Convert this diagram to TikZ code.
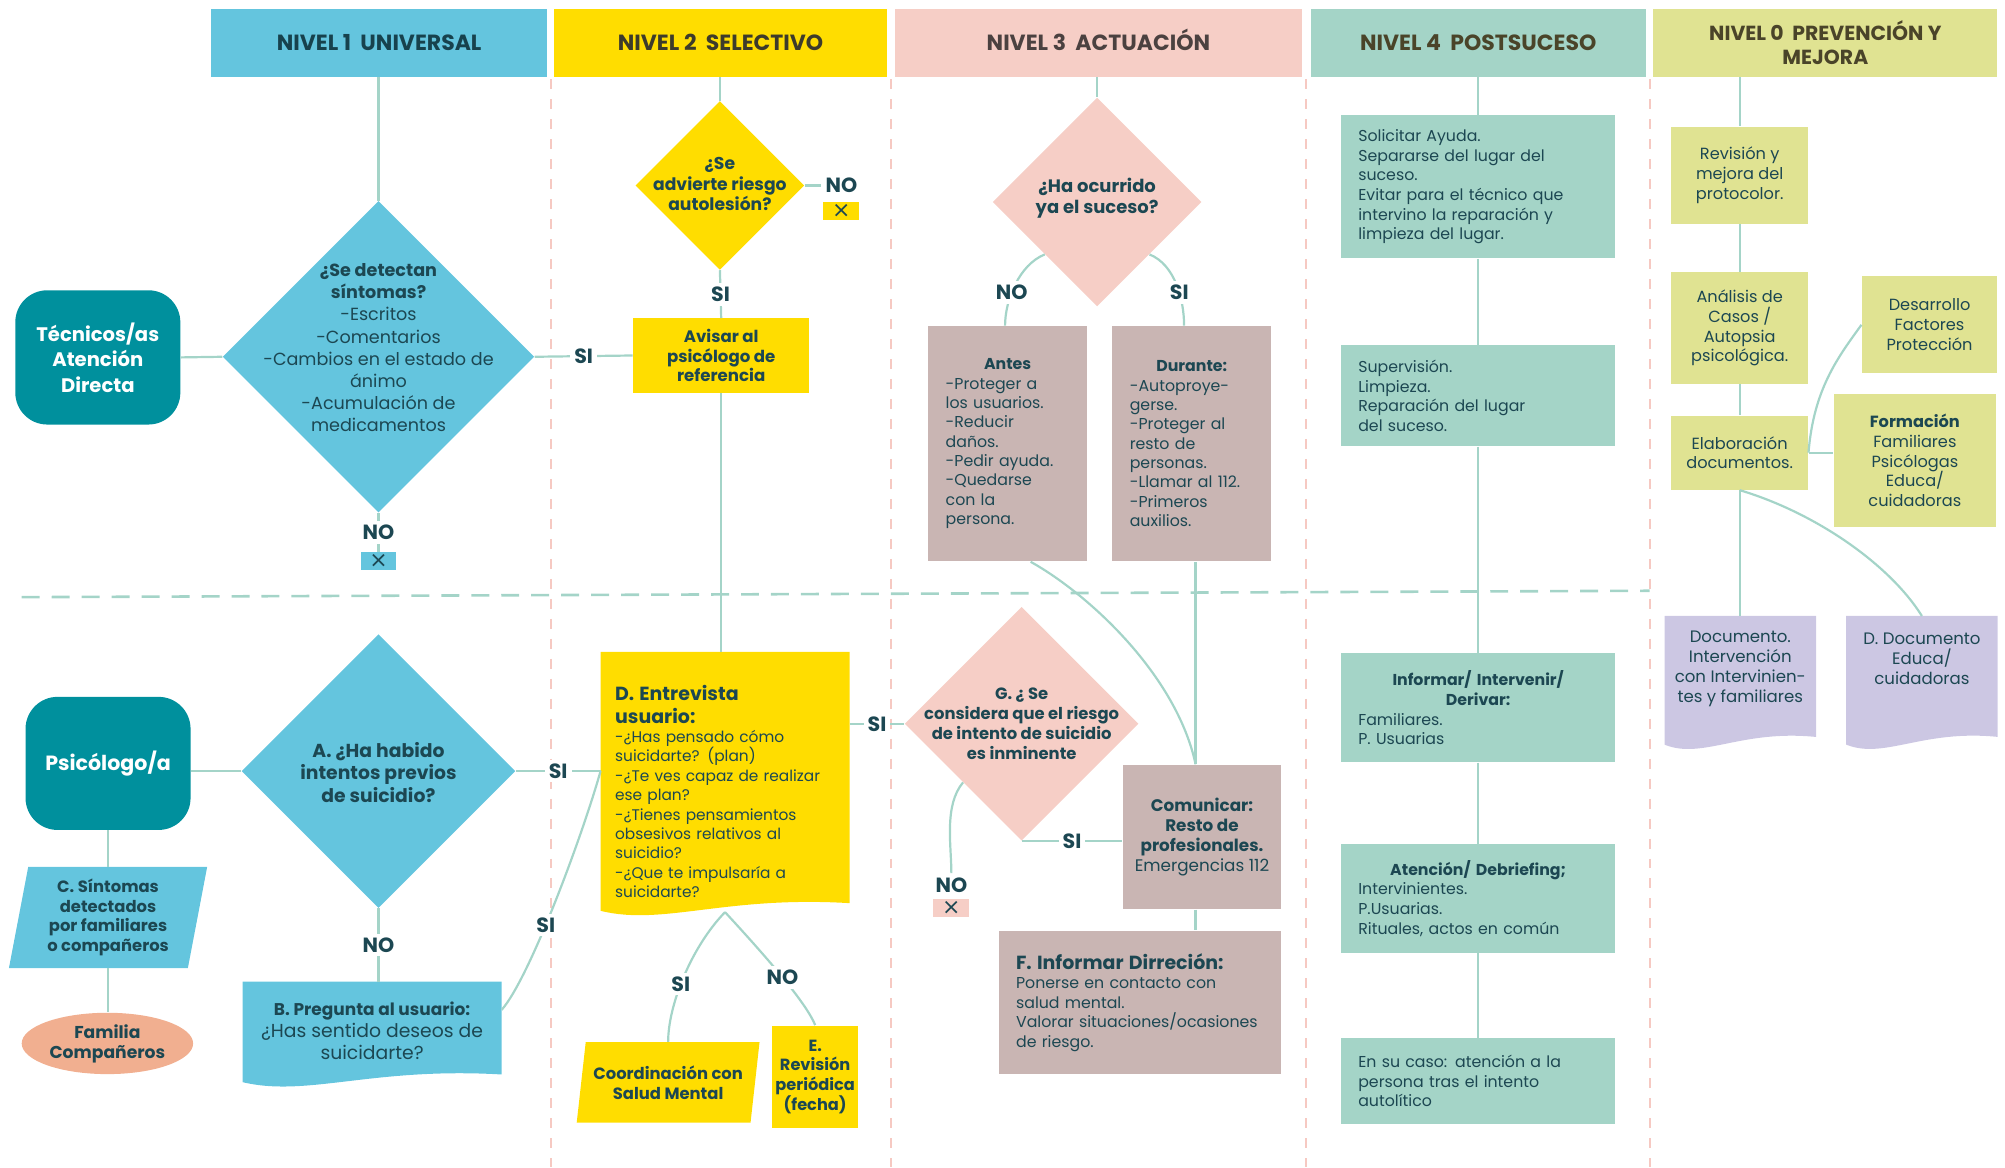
\documentclass[tikz,border=0pt]{standalone}
\usepackage{fontspec}
\setmainfont{Poppins}
\newfontfamily\symfont{DejaVu Sans}
\usetikzlibrary{shapes.geometric,calc,backgrounds}

\definecolor{ink}{HTML}{1C4752}
\definecolor{hdrA}{HTML}{17424D}
\definecolor{hdrB}{HTML}{3D3B2B}
\definecolor{hdrC}{HTML}{4B4140}
\definecolor{hdrD}{HTML}{4A4429}
\definecolor{tealD}{HTML}{00909D}
\definecolor{cyanB}{HTML}{64C5DE}
\definecolor{yelB}{HTML}{FFDD00}
\definecolor{pinkB}{HTML}{F6CEC6}
\definecolor{roseB}{HTML}{C9B5B3}
\definecolor{mintB}{HTML}{A4D4C7}
\definecolor{oliveB}{HTML}{E0E392}
\definecolor{lilaB}{HTML}{CCC7E3}
\definecolor{salmB}{HTML}{F1AF90}
\definecolor{lineC}{HTML}{A4D4C8}
\definecolor{divC}{HTML}{F6C9C2}

\newcommand{\fsz}[2]{\fontsize{#1}{#2}\selectfont}
% fondo de documento con borde inferior ondulado
\newcommand{\docfill}[3]{%
  \begin{pgfonlayer}{background}
    \fill[#2] (#1.north west) -- (#1.north east)
      -- ($(#1.south east)+(0,#3-10)$)
      .. controls ($(#1.south)+(0,#3-16)$) and ($(#1.south west)!0.25!(#1.south east)+(0,#3+8)$)
      .. ($(#1.south west)+(0,#3-4)$) -- cycle;
  \end{pgfonlayer}}

\begin{document}
\begin{tikzpicture}[
    x=0.64pt, y=-0.64pt,
    every node/.style={text=ink, inner sep=0pt},
    every edge/.style={draw=lineC, line width=1.1pt},
    hdr/.style={minimum height=34pt, align=center, font=\fsz{11}{12.2}\bfseries},
    hdrone/.style={hdr, text height=8pt, text depth=0.4pt},
    dia/.style={diamond, aspect=1, minimum size=#1},
    dtxt/.style={align=center},
    rbox/.style={rectangle, minimum width=#1, align=center},
    rnd/.style={rectangle, rounded corners=16pt, fill=tealD, text=white,
        minimum width=82.6pt, align=center, font=\fsz{9.8}{12.8}\bfseries},
    para/.style={trapezium, trapezium stretches body, align=center},
    doc/.style={rectangle, minimum width=#1, align=center},
    pbox/.style={rbox=137pt, fill=mintB, text width=120pt, align=left, font=\fsz{7.9}{9.85}},
    mbox/.style={rbox=68.5pt, fill=oliveB, font=\fsz{8.1}{9.9}},
    lbl/.style={fill=white, inner sep=2pt, font=\fsz{10.3}{11}\bfseries},
    xbox/.style={minimum width=18pt, minimum height=9pt, font=\fsz{11}{11}\symfont},
    link/.style={draw=lineC, line width=1.1pt},
    divider/.style={draw=divC, line width=1pt, dash pattern=on 5pt off 5pt},
    midline/.style={draw=lineC, line width=1.3pt, dash pattern=on 9pt off 6pt}
]
\useasboundingbox (0,0) rectangle (1568,913);

% separadores
\foreach \x in {431,697,1021,1290}
  \draw[divider] (\x,62) -- (\x,913);
\draw[midline] (17,467) -- (1290,462);

% cabeceras
\node[hdrone, fill=cyanB, text=hdrA, minimum width=168.3pt] (h_1) at (296.5,33.5) {NIVEL 1\ \ UNIVERSAL};
\node[hdrone, fill=yelB, text=hdrB, minimum width=167pt] (h_2) at (563.5,33.5) {NIVEL 2\ \ SELECTIVO};
\node[hdrone, fill=pinkB, text=hdrC, minimum width=203.5pt] (h_3) at (859,33.5) {NIVEL 3\ \ ACTUACIÓN};
\node[hdrone, fill=mintB, text=hdrD, minimum width=167.7pt] (h_4) at (1156,33.5) {NIVEL 4\ \ POSTSUCESO};
\node[hdr, fill=oliveB, text=hdrD, minimum width=172.2pt, font=\fsz{10.2}{12.2}\bfseries] (h_5) at (1427.5,33.5) {NIVEL 0\ \ PREVENCIÓN Y\\MEJORA};

% nivel 1
\node[rnd, minimum height=67.2pt] (tec) at (76.5,279.5) {Técnicos/as\\Atención\\Directa};
\node[dia=156pt, fill=cyanB] (q_1) at (296,279) {};
\node[dtxt, font=\fsz{8.8}{11.1}] (q_1t) at (296,272) {\textbf{¿Se detectan}\\\textbf{síntomas?}\\-Escritos\\-Comentarios\\-Cambios en el estado de\\ánimo\\-Acumulación de\\medicamentos};
\node[xbox, fill=cyanB] (x_1) at (296,439) {×};

\node[rnd, minimum height=66.6pt, font=\fsz{10.3}{12.8}\bfseries] (psi) at (84.5,597) {Psicólogo/a};
\node[dia=137pt, fill=cyanB] (q_A) at (296,603) {};
\node[dtxt, font=\fsz{9.4}{11.2}\bfseries] (q_At) at (296,604) {A. ¿Ha habido\\intentos previos\\de suicidio?};
\node[doc=129.3pt, minimum height=48.6pt, font=\fsz{9.4}{10.9}] (doc_B) at (291,806) {{\fsz{8.5}{10.9}\bfseries B. Pregunta al usuario:}\\¿Has sentido deseos de\\suicidarte?};
\docfill{doc_B}{cyanB}{6}
\node[para, trapezium left angle=76, trapezium right angle=104, fill=cyanB, minimum width=99.2pt, minimum height=50.6pt, font=\fsz{8.2}{9.9}\bfseries] (n_c) at (84.5,717.5) {C. Síntomas\\detectados\\por familiares\\o compañeros};
\node[ellipse, fill=salmB, minimum width=85.8pt, minimum height=30.7pt, align=center, font=\fsz{8.6}{10}\bfseries] (n_fam) at (84,816) {Familia\\Compañeros};

% nivel 2
\node[dia=84.5pt, fill=yelB] (q_2) at (563,145) {};
\node[dtxt, font=\fsz{8.6}{10.2}\bfseries] (q_2t) at (563,144) {¿Se\\advierte riesgo\\autolesión?};
\node[lbl] (l_no2) at (658,145) {NO};
\node[xbox, fill=yelB] (x_2) at (658,165) {×};
\node[rbox=88.3pt, fill=yelB, minimum height=37.1pt, font=\fsz{8.3}{9.6}\bfseries] (n_av) at (564,278) {Avisar al\\psicólogo de\\referencia};
\node[doc=124.2pt, minimum height=139.5pt, text width=110pt, align=left, font=\fsz{7.7}{9.7}] (doc_D) at (567,619) {{\fsz{9.5}{11.3}\bfseries D. Entrevista\\usuario:\par}-¿Has pensado cómo\\suicidarte? (plan)\\-¿Te ves capaz de realizar\\ese plan?\\-¿Tienes pensamientos\\obsesivos relativos al\\suicidio?\\-¿Que te impulsaría a\\suicidarte?};
\docfill{doc_D}{yelB}{-12}
\node[para, trapezium left angle=75, trapezium right angle=105, fill=yelB, minimum width=91.5pt, minimum height=40.3pt, font=\fsz{8.2}{9.9}\bfseries] (n_coord) at (522.5,846.5) {Coordinación con\\Salud Mental};
\node[rbox=42.9pt, fill=yelB, minimum height=51.2pt, font=\fsz{8.1}{9.9}\bfseries] (n_e) at (637.5,842) {E.\\Revisión\\periódica\\(fecha)};

% nivel 3
\node[dia=104.5pt, fill=pinkB] (q_3) at (858,158) {};
\node[dtxt, font=\fsz{9}{10.4}\bfseries] (q_3t) at (858,155) {¿Ha ocurrido\\ya el suceso?};
\node[rbox=79.4pt, fill=roseB, minimum height=117.8pt, text width=62pt, align=left, font=\fsz{7.9}{9.7}] (n_ant) at (788,347) {{\centering\bfseries Antes\par}-Proteger a\\los usuarios.\\-Reducir\\daños.\\-Pedir ayuda.\\-Quedarse\\con la\\persona.};
\node[rbox=79.4pt, fill=roseB, minimum height=117.8pt, text width=62pt, align=left, font=\fsz{7.9}{9.7}] (n_dur) at (932,347) {{\centering\bfseries Durante:\par}-Autoproye-\\gerse.\\-Proteger al\\resto de\\personas.\\-Llamar al 112.\\-Primeros\\auxilios.};
\node[dia=117pt, fill=pinkB] (q_G) at (799,566) {};
\node[dtxt, font=\fsz{8.2}{9.9}\bfseries] (q_Gt) at (799,566) {G. ¿ Se\\considera que el riesgo\\de intento de suicidio\\es inminente};
\node[lbl] (l_no3) at (744,692) {NO};
\node[xbox, fill=pinkB] (x_3) at (744,710) {×};
\node[rbox=79.4pt, fill=roseB, minimum height=72.3pt, font=\fsz{8.4}{9.9}] (n_com) at (940,654.5) {\textbf{Comunicar:}\\\textbf{Resto de}\\\textbf{profesionales.}\\Emergencias 112};
\node[rbox=141.4pt, fill=roseB, minimum height=71.7pt, text width=124pt, align=left, font=\fsz{7.9}{9.8}] (n_f) at (891.5,784) {{\fsz{9.5}{10.8}\bfseries F. Informar Dirreción:\par}Ponerse en contacto con\\salud mental.\\Valorar situaciones/ocasiones\\de riesgo.};

% nivel 4
\node[pbox, minimum height=71.7pt] (p_1) at (1156,146) {Solicitar Ayuda.\\Separarse del lugar del\\suceso.\\Evitar para el técnico que\\intervino la reparación y\\limpieza del lugar.};
\node[pbox, minimum height=50.6pt] (p_2) at (1156,309.5) {Supervisión.\\Limpieza.\\Reparación del lugar\\del suceso.};
\node[pbox, minimum height=54.4pt] (p_3) at (1156,553.5) {{\centering\bfseries Informar/ Intervenir/\\Derivar:\par}Familiares.\\P. Usuarias};
\node[pbox, minimum height=54.4pt] (p_4) at (1156,702.5) {{\centering\bfseries Atención/ Debriefing;\par}Intervinientes.\\P.Usuarias.\\Rituales, actos en común};
\node[pbox, minimum height=42.9pt] (p_5) at (1156,845.5) {En su caso: atención a la\\persona tras el intento\\autolítico};

% nivel 0
\node[mbox, minimum height=48.6pt] (m_1) at (1360.5,137) {Revisión y\\mejora del\\protocolor.};
\node[mbox, minimum height=55.7pt] (m_2) at (1360.5,256.5) {Análisis de\\Casos /\\Autopsia\\psicológica.};
\node[mbox, minimum height=37.1pt] (m_3) at (1360.5,354) {Elaboración\\documentos.};
\node[mbox, minimum width=67.8pt, minimum height=48.6pt] (m_4) at (1509,254) {Desarrollo\\Factores\\Protección};
\node[mbox, minimum width=81.3pt, minimum height=66.6pt] (m_5) at (1497.5,360) {\textbf{Formación}\\Familiares\\Psicólogas\\Educa/\\cuidadoras};
\node[doc=75.5pt, minimum height=52.5pt, font=\fsz{8.3}{9.9}] (doc_1) at (1361,523) {Documento.\\Intervención\\con Intervinien-\\tes y familiares};
\docfill{doc_1}{lilaB}{22}
\node[doc=75.5pt, minimum height=42.2pt, font=\fsz{8.3}{9.9}] (doc_2) at (1503,515) {D. Documento\\Educa/\\cuidadoras};
\docfill{doc_2}{lilaB}{38}

% conectores
\path (h_1.south -| q_1.north) edge (q_1.north)
      (tec.east) edge (q_1.west)
      (q_1.east) edge node[lbl] {SI} (n_av.west)
      (q_1.south) edge node[lbl] {NO} (x_1.north)
      (h_2.south -| q_2.north) edge (q_2.north)
      (q_2.east) edge (l_no2.west)
      (q_2.south) edge node[lbl] {SI} (n_av.north)
      (n_av.south) edge (n_av.south |- doc_D.north)
      (psi.east |- q_A.west) edge (q_A.west)
      (q_A.east) edge node[lbl] {SI} (q_A.east -| doc_D.west)
      (q_A.south) edge node[lbl] {NO} (q_A.south |- doc_B.north)
      (psi.south) edge (psi.south |- n_c.north)
      (n_c.south) edge (n_c.south |- n_fam.north)
      (doc_D.east |- q_G.west) edge node[lbl] {SI} (q_G.west)
      (q_G.south) edge node[lbl] {SI} (q_G.south -| n_com.west)
      (h_3.south -| q_3.north) edge (q_3.north)
      (m_3.east) edge (m_3.east -| m_5.west);

\foreach \a/\b in {p_1/p_2, p_2/p_3, p_3/p_4, p_4/p_5, m_1/m_2, m_2/m_3, m_3/doc_1}
  \draw[link] (\a.south) -- (\a.south |- \b.north);
\draw[link] (h_4.south -| p_1.north) -- (p_1.north);
\draw[link] (h_5.south -| m_1.north) -- (m_1.north);

\coordinate (c_dur) at ($(n_dur.south)+(3,0)$);
\coordinate (c_com) at ($(n_com.south)+(-5,0)$);
\coordinate (c_D) at ($(doc_D.south)+(0,-15)$);
\draw[link] (c_dur) -- (c_dur |- n_com.north);
\draw[link] (c_com) -- (c_com |- n_f.north);

\draw[link] (q_3.south west) .. controls +(-20,8) and +(0,-20) .. ($(n_ant.north)+(-2,0)$) node[lbl, pos=0.6] {NO};
\draw[link] (q_3.south east) .. controls +(20,8) and +(0,-20) .. ($(n_dur.north)+(-6,0)$) node[lbl, pos=0.6] {SI};
\draw[link] (c_D) .. controls +(-27,28) and +(0,-28) .. (n_coord.north) node[lbl, pos=0.55] {SI};
\draw[link] (c_D) .. controls +(23,25) and +(-8,-20) .. (n_e.north) node[lbl, pos=0.55] {NO};
\draw[link] ($(doc_B.north east)+(0,22)$) .. controls +(22,-25) and +(-14,50) .. (q_A.east -| doc_D.west) node[lbl, pos=0.42] {SI};
\draw[link] ($(n_ant.south)+(18,0)$) .. controls +(45,25) and +(-15,-70) .. (c_dur |- n_com.north);
\draw[link] (q_G.south west) .. controls +(-15,18) and +(0,-22) .. (l_no3.north);
\draw[link] (m_3.east) .. controls +(4,-50) and +(-18,25) .. (m_4.west);
\draw[link] (m_3.south) .. controls +(60,18) and +(-25,-40) .. (doc_2.north);
\end{tikzpicture}
\end{document}
